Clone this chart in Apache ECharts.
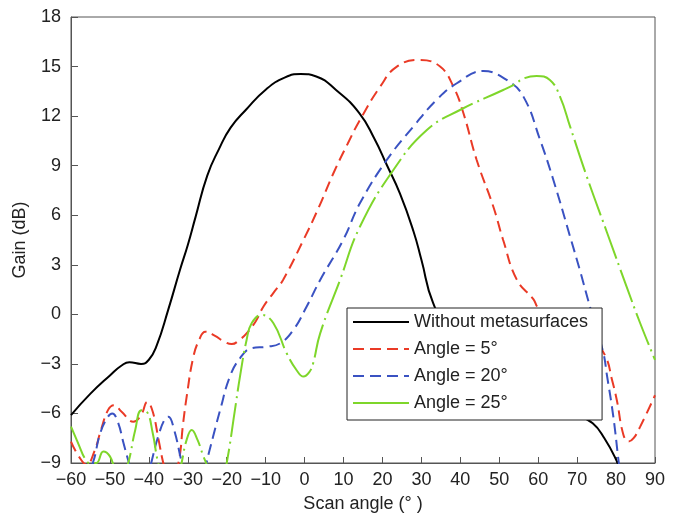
<!DOCTYPE html>
<html>
<head>
<meta charset="utf-8">
<script src="https://cdn.jsdelivr.net/npm/echarts@6/dist/echarts.min.js"></script>
<style>
html,body{margin:0;padding:0;background:#fff;}
#chart{width:678px;height:518px;}
</style>
</head>
<body>
<div id="chart"></div>
<script>
// ---- data ----
var seriesNames = ['Without metasurfaces', 'Angle = 5°', 'Angle = 20°', 'Angle = 25°'];
var xTicks = [-60, -50, -40, -30, -20, -10, 0, 10, 20, 30, 40, 50, 60, 70, 80, 90];
var yTicks = [-9, -6, -3, 0, 3, 6, 9, 12, 15, 18];

var blackX = [-60,-55,-50,-47,-45,-42,-40,-38,-35,-32,-30,-28,-25,-22,-19,-15,-10,-5,-1,3,8,14,18,21,24.5,28,30,33,40,50,60,70,74,77,80,82];
var blackY = [-6.1,-4.8,-3.7,-3.1,-2.9,-3.0,-2.75,-1.9,0.3,2.7,4.2,5.9,8.4,10.0,11.3,12.4,13.6,14.35,14.55,14.4,13.6,12.2,10.6,9.1,7.3,5.0,3.3,0.7,-2.5,-4.3,-5.3,-6.1,-6.6,-7.5,-8.8,-10];

var redX = [-60,-58,-56,-54,-52.3,-50.5,-49,-47,-44,-42,-40.4,-39,-37.5,-36.3,-34.5,-32.4,-31.2,-30.3,-28.6,-27,-25.5,-23,-21,-18.7,-16.5,-14.9,-12.5,-10.6,-8,-5.5,-0.3,3.5,7.4,11,14.2,19.4,23.7,29.6,34.8,38.2,40.8,44.2,48.5,51,54.5,58.8,60,65,70,74,77.2,79,80.2,81.9,83.2,84.5,86.2,90];
var redY = [-7.7,-8.6,-9.1,-8.3,-7.0,-5.8,-5.5,-5.9,-6.5,-6.1,-5.3,-5.9,-7.6,-9.0,-10.5,-9.0,-6.6,-5.0,-2.6,-1.5,-1.05,-1.3,-1.6,-1.8,-1.5,-1.15,-0.4,0.46,1.3,2.1,4.5,6.4,8.54,10.3,11.76,13.78,15.0,15.4,15.0,13.8,12.17,9.34,6.5,4.5,2.1,0.9,0.4,-0.5,-1.0,-1.6,-2.5,-4.0,-5.2,-7.3,-7.7,-7.5,-6.8,-4.9];

var blueX = [-58,-54.4,-52.5,-50.5,-49.4,-48,-46.5,-45.1,-43,-41,-39.4,-37.5,-35.8,-35,-33.5,-31.5,-29,-27,-25.2,-23.5,-21.7,-19.2,-16.6,-13.6,-9.7,-6.3,-2.9,0.5,4.0,9.9,14.2,21.1,27.9,33.9,39.1,45.9,51.9,56.2,60.5,63.9,68.2,70.7,73.3,76.7,77.6,79.3,80.6,81.5];
var blueY = [-11,-9,-7.2,-6.2,-6.0,-6.5,-7.8,-9,-10.5,-10.5,-9,-7.3,-6.3,-6.2,-7.0,-9,-11,-11,-9,-7.4,-5.8,-3.77,-2.66,-2.05,-1.96,-1.76,-0.95,0.46,2.08,4.5,6.72,9.34,11.36,12.98,13.99,14.73,14.19,13.18,10.55,8.13,4.7,2.68,0.46,-2.3,-3.6,-6.2,-8.8,-10.5];

var greenX = [-60,-58,-56.5,-55.2,-53.5,-51.7,-50,-48.5,-47,-45.3,-43.5,-41.9,-40.5,-39,-37.6,-35,-33,-31.6,-30.3,-29,-27.5,-26,-25.3,-23,-21.5,-20.0,-17.9,-16.6,-14.9,-13.6,-11.0,-8.0,-4.6,-2,-0.3,1.2,2.2,4.0,9.1,14.2,22.8,31.4,39.9,51.0,53.6,56.5,59.6,63.0,65.6,68.2,72.5,77.6,82.7,86.2,90];
var greenY = [-6.8,-7.9,-8.7,-9,-9.0,-8.3,-8.6,-9.5,-10,-9,-7.0,-5.8,-5.9,-7.2,-9,-11,-10.5,-9,-7.6,-7.0,-7.6,-8.6,-9,-10.5,-10.5,-9,-5.8,-3.77,-1.55,-0.54,-0.04,-0.54,-2.36,-3.4,-3.77,-3.5,-2.96,-1.15,2.08,5.3,8.74,11.16,12.37,13.58,13.88,14.3,14.43,14.19,13.18,11.36,8.33,5.0,1.68,-0.54,-2.76];

function zip(xs, ys) { return xs.map(function (x, i) { return [x, ys[i]]; }); }
function fmt(v) { return String(v).replace('-', '\u2212'); }

var FONT = '"Liberation Sans", Arial, Helvetica, sans-serif';
var AXIS_COLOR = '#555';
var colors = ['#000000', '#ea3a26', '#3a52c2', '#7ed62a'];
var NOSYM = {color: 'rgba(0,0,0,0)', borderColor: 'rgba(0,0,0,0)', borderWidth: 0, opacity: 0};

var chart = echarts.init(document.getElementById('chart'), null, {renderer: 'canvas'});
chart.setOption({
  animation: false,
  backgroundColor: '#ffffff',
  textStyle: {fontFamily: FONT},
  grid: {left: 71, right: 23, top: 17, bottom: 55, show: true, borderColor: AXIS_COLOR, borderWidth: 1},
  xAxis: {
    type: 'value', min: xTicks[0], max: xTicks[xTicks.length - 1], interval: 10,
    name: 'Scan angle (° )', nameLocation: 'middle', nameGap: 32,
    nameTextStyle: {fontSize: 18, color: '#222', fontFamily: FONT},
    axisLine: {show: true, onZero: false, lineStyle: {color: AXIS_COLOR, width: 1}},
    axisTick: {show: true, inside: true, length: 6, lineStyle: {color: AXIS_COLOR}},
    axisLabel: {fontSize: 18, color: '#222', margin: 8, fontFamily: FONT, formatter: fmt},
    splitLine: {show: false}
  },
  yAxis: {
    type: 'value', min: yTicks[0], max: yTicks[yTicks.length - 1], interval: 3,
    name: 'Gain (dB)', nameLocation: 'middle', nameGap: 42,
    nameTextStyle: {fontSize: 18, color: '#222', fontFamily: FONT},
    axisLine: {show: true, onZero: false, lineStyle: {color: AXIS_COLOR, width: 1}},
    axisTick: {show: true, inside: true, length: 7, lineStyle: {color: AXIS_COLOR}},
    axisLabel: {fontSize: 18, color: '#222', margin: 10, fontFamily: FONT, formatter: fmt},
    splitLine: {show: false}
  },
  legend: {
    orient: 'vertical', left: 347, top: 308, align: 'left',
    padding: [5, 14, 8, 5], itemGap: 9, itemWidth: 56, itemHeight: 18,
    backgroundColor: '#ffffff', borderColor: '#222', borderWidth: 1,
    textStyle: {fontSize: 18, color: '#222', fontFamily: FONT},
    itemStyle: NOSYM,
    data: [
      {name: seriesNames[0], itemStyle: NOSYM},
      {name: seriesNames[1], itemStyle: NOSYM},
      {name: seriesNames[2], itemStyle: NOSYM},
      {name: seriesNames[3], itemStyle: NOSYM, lineStyle: {type: 'solid'}}
    ]
  },
  series: [
    {name: seriesNames[0], type: 'line', data: zip(blackX, blackY), symbol: 'none', smooth: 0.5, clip: true,
     lineStyle: {color: colors[0], width: 2, type: 'solid'}, itemStyle: {color: colors[0]}},
    {name: seriesNames[1], type: 'line', data: zip(redX, redY), symbol: 'none', smooth: 0.45, clip: true,
     lineStyle: {color: colors[1], width: 2, type: [11, 6]}, itemStyle: {color: colors[1]}},
    {name: seriesNames[2], type: 'line', data: zip(blueX, blueY), symbol: 'none', smooth: 0.45, clip: true,
     lineStyle: {color: colors[2], width: 2, type: [11, 6]}, itemStyle: {color: colors[2]}},
    {name: seriesNames[3], type: 'line', data: zip(greenX, greenY), symbol: 'none', smooth: 0.45, clip: true,
     lineStyle: {color: colors[3], width: 2, type: [34, 5, 2, 5]}, itemStyle: {color: colors[3]}}
  ]
});
</script>
</body>
</html>
